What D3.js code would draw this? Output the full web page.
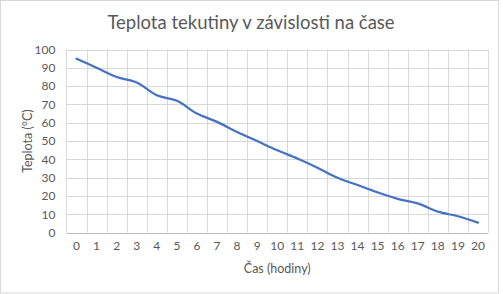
<!DOCTYPE html>
<html><head><meta charset="utf-8">
<script src="https://cdn.jsdelivr.net/npm/d3@7"></script>
<style>body{margin:0;background:#fff}svg{display:block}text{font-family:Lato,"Liberation Sans",sans-serif}</style>
</head><body><svg id="c" width="503" height="294"></svg>
<script>
const hours = ["0","1","2","3","4","5","6","7","8","9","10","11","12","13","14","15","16","17","18","19","20"];
const temps = [95, 90, 85, 82, 75, 72, 65, 60.5, 55, 50, 45, 40.5, 35.5, 30, 26, 22, 18.5, 16, 11.5, 9, 5.5];
const yTicks = [0,10,20,30,40,50,60,70,80,90,100];
const title = "Teplota tekutiny v závislosti na čase";
const xTitle = "Čas (hodiny)";
const yTitle = "Teplota (°C)";

const svg = d3.select("#c");
const m = {l:66.5, r:488, t:49.5, b:232.7};
svg.append("rect").attr("x",0.5).attr("y",0.5).attr("width",498).attr("height",292.5)
  .attr("fill","#fff").attr("stroke","#d9d9d9");

const x = d3.scaleBand().domain(hours).range([m.l,m.r]);
const y = d3.scaleLinear().domain([0,100]).range([m.b,m.t]);

svg.append("g").selectAll("line").data(yTicks.filter(d=>d>0)).join("line")
  .attr("x1",m.l).attr("x2",m.r).attr("y1",d=>Math.round(y(d))+0.5).attr("y2",d=>Math.round(y(d))+0.5)
  .attr("stroke","#d9d9d9");
const edges = hours.map(h=>x(h)).concat([m.r]);
svg.append("g").selectAll("line").data(edges).join("line")
  .attr("x1",d=>Math.round(d)+0.5).attr("x2",d=>Math.round(d)+0.5).attr("y1",m.t).attr("y2",m.b)
  .attr("stroke","#d9d9d9");
svg.append("line").attr("x1",m.l).attr("x2",m.r).attr("y1",Math.round(m.b)+0.5).attr("y2",Math.round(m.b)+0.5)
  .attr("stroke","#bfbfbf");

const ya = svg.append("g").attr("transform",`translate(${m.l-11},0)`)
  .call(d3.axisLeft(y).tickValues(yTicks).tickSize(0).tickPadding(0));
ya.select(".domain").remove();
ya.selectAll("text").attr("fill","#595959").style("font-size","12px").style("font-family","Lato, sans-serif");

const xa = svg.append("g").attr("transform",`translate(0,${m.b+9})`)
  .call(d3.axisBottom(x).tickSize(0).tickPadding(0));
xa.select(".domain").remove();
xa.selectAll("text").attr("fill","#595959").style("font-size","12px").style("font-family","Lato, sans-serif");

const line = d3.line().x((d,i)=>x(hours[i])+x.bandwidth()/2).y(d=>y(d)).curve(d3.curveCatmullRom.alpha(0.5));
svg.append("path").datum(temps).attr("d",line).attr("fill","none")
  .attr("stroke","#4472c4").attr("stroke-width",2.25).attr("stroke-linecap","round");

svg.append("text").attr("x",251).attr("y",29).attr("text-anchor","middle")
  .attr("fill","#595959").style("font-size","18.5px").text(title);
svg.append("text").attr("x",(m.l+m.r)/2).attr("y",273).attr("text-anchor","middle")
  .attr("fill","#595959").style("font-size","12.5px").text(xTitle);
svg.append("text").attr("transform",`translate(32,${(m.t+m.b)/2}) rotate(-90)`).attr("text-anchor","middle")
  .attr("fill","#595959").style("font-size","12.5px").text(yTitle);
</script></body></html>
